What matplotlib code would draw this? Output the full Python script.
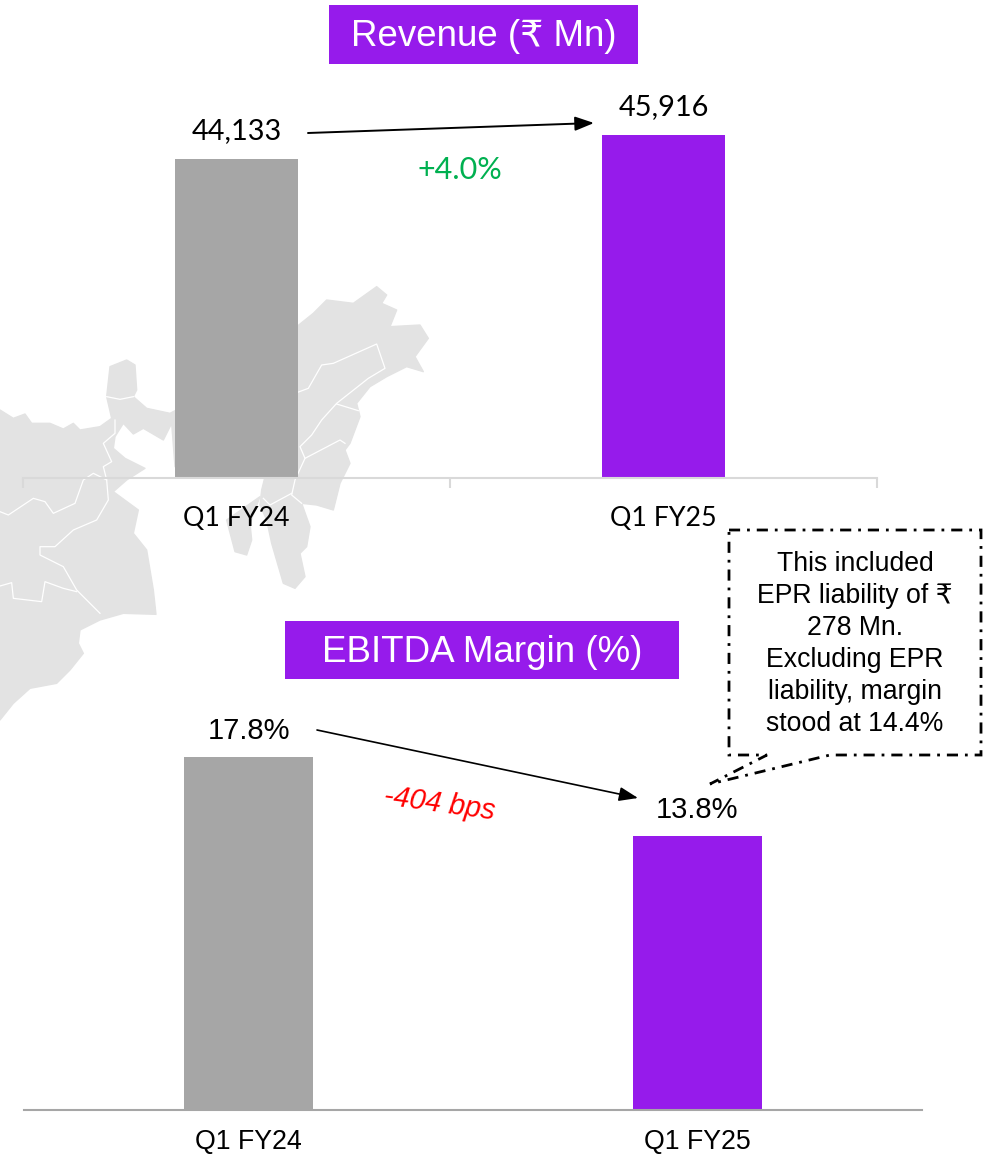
import matplotlib
matplotlib.use('Agg')
import matplotlib.pyplot as plt
from matplotlib.patches import Polygon, Rectangle

W, H = 983, 1154
PURPLE = '#961BEB'
GREY = '#A6A6A6'
ARIAL = ['Liberation Sans', 'DejaVu Sans']
CALIBRI = ['Lato', 'DejaVu Sans']

# данные
categories = ['Q1 FY24', 'Q1 FY25']
revenue = [44133, 45916]
revenue_labels = ['44,133', '45,916']
margin = [17.8, 13.8]
margin_labels = ['17.8%', '13.8%']
bar_colors = [GREY, PURPLE]

# контур карты на фоне (координаты из увеличенного фрагмента)
map_main = [(0, 390), (40, 415), (75, 402), (95, 430), (150, 430), (190, 447), (220, 430), (240, 450),
            (300, 440), (335, 415), (320, 350), (330, 260), (380, 240), (405, 255), (410, 330), (400, 350),
            (440, 385), (510, 400), (700, 300), (890, 140), (940, 100), (980, 60), (1060, 70), (1130, 20),
            (1160, 45), (1145, 70), (1190, 90), (1170, 140), (1260, 135), (1285, 175), (1245, 230),
            (1270, 275), (1220, 260), (1160, 290), (1110, 320), (1070, 370), (1080, 410), (1050, 490),
            (1035, 510), (1050, 550), (1020, 610), (1000, 690), (950, 675), (905, 670), (930, 740),
            (920, 800), (900, 820), (915, 890), (885, 925), (850, 910), (815, 790), (800, 720),
            (780, 675), (785, 630), (795, 590), (700, 590), (525, 560), (515, 430), (490, 480), (430, 445),
            (400, 462), (370, 430), (345, 470), (340, 505), (375, 535), (435, 565), (380, 600),
            (340, 635), (415, 690), (400, 760), (440, 810), (460, 930), (468, 1003), (370, 1000),
            (300, 1020), (240, 1050), (235, 1090), (250, 1120), (210, 1170), (170, 1210), (90, 1225),
            (40, 1270), (0, 1320)]
map_island = [(780, 650), (680, 720), (705, 815), (740, 825), (755, 780), (750, 730)]
map_borders = [
    [(320, 350), (360, 358), (400, 350)],
    [(345, 420), (345, 460), (310, 490), (335, 545), (310, 560), (320, 600), (325, 660), (290, 720), (220, 750), (165, 800), (120, 800), (120, 825), (190, 860), (230, 930), (300, 1000)],
    [(0, 695), (25, 705), (100, 655), (135, 665), (160, 700), (225, 670), (250, 600), (280, 580), (320, 600)],
    [(0, 918), (35, 908), (40, 955), (125, 965), (135, 905), (190, 925), (230, 935)],
    [(890, 338), (925, 325), (965, 255), (1000, 250), (1130, 192), (1155, 265), (1105, 295), (1010, 370), (965, 420), (935, 465), (900, 500), (915, 535), (1020, 480), (1035, 490)],
    [(1010, 372), (1075, 392)],
    [(915, 535), (885, 600), (875, 645), (905, 670)],
    [(790, 655), (810, 675), (875, 640)],
]


def zoom_to_px(pts):
    return [(x / 3, 280 + y / 3) for x, y in pts]


fig = plt.figure(figsize=(W / 100, H / 100), dpi=100, facecolor='white')

# оверлей в пикселях: карта, заголовки, стрелки, выноска
ov = fig.add_axes([0, 0, 1, 1], zorder=0)
ov.set_xlim(0, W)
ov.set_ylim(H, 0)
ov.axis('off')

ov.add_patch(Polygon(zoom_to_px(map_main), closed=True, fc='#E3E3E3', ec='#E3E3E3', lw=1, joinstyle='round'))
ov.add_patch(Polygon(zoom_to_px(map_island), closed=True, fc='#E3E3E3', ec='#E3E3E3', lw=1, joinstyle='round'))
for b in map_borders:
    p = zoom_to_px(b)
    ov.plot([q[0] for q in p], [q[1] for q in p], color='white', lw=0.9)


def axes_px(x0, x1, y0, y1):
    return fig.add_axes([x0 / W, 1 - y1 / H, (x1 - x0) / W, (y1 - y0) / H], zorder=1, facecolor='none')


# Выручка
ax1 = axes_px(23, 877, 90, 478)
ax1.bar([0, 1], revenue, width=0.286, color=bar_colors)
ax1.set_xlim(-0.5, 1.5)
ax1.set_ylim(20433, 20433 + 388 * 74.3)
for i, v in enumerate(revenue):
    ax1.annotate(revenue_labels[i], (i, v), xytext=(0, 11), textcoords='offset points', ha='center',
                 va='bottom', fontsize=20.8, family=CALIBRI, color='black')
ax1.set_xticks([-0.5, 0.5, 1.5])
ax1.set_xticklabels([])
ax1.set_xticks([0, 1], categories, minor=True, fontsize=19.3, family=CALIBRI)
ax1.tick_params(axis='x', which='major', length=7, width=1.5, color='#D9D9D9')
ax1.tick_params(axis='x', which='minor', length=0, pad=20)
ax1.set_yticks([])
for s in ['top', 'left', 'right']:
    ax1.spines[s].set_visible(False)
ax1.spines['bottom'].set_color('#D9D9D9')
ax1.spines['bottom'].set_linewidth(1.5)

# EBITDA
ax2 = axes_px(24, 922, 700, 1110)
ax2.bar([0, 1], margin, width=0.287, color=bar_colors)
ax2.set_xlim(-0.5, 1.5)
ax2.set_ylim(0, 410 / 19.84)
for i, v in enumerate(margin):
    ax2.annotate(margin_labels[i], (i, v), xytext=(0, 8.5), textcoords='offset points', ha='center',
                 va='bottom', fontsize=21, family=ARIAL, color='black')
ax2.set_xticks([0, 1], categories, fontsize=19.3, family=ARIAL)
ax2.tick_params(axis='x', length=0, pad=14)
ax2.set_yticks([])
for s in ['top', 'left', 'right']:
    ax2.spines[s].set_visible(False)
ax2.spines['bottom'].set_color('#A6A6A6')
ax2.spines['bottom'].set_linewidth(1.5)

# заголовки
ov.add_patch(Rectangle((329, 5), 309, 59, fc=PURPLE, ec='none'))
ov.text(484, 36, 'Revenue (₹ Mn)', color='white', fontsize=26.4, ha='center', va='center', family=ARIAL)
ov.add_patch(Rectangle((285, 621), 394, 58, fc=PURPLE, ec='none'))
ov.text(482, 652, 'EBITDA Margin (%)', color='white', fontsize=26.5, ha='center', va='center', family=ARIAL)

# стрелки и подписи изменения
head = '-|>,head_length=1.15,head_width=0.43'
ov.annotate('', xy=(594, 123), xytext=(308, 133),
            arrowprops=dict(arrowstyle=head, color='black', lw=1.4, shrinkA=0, shrinkB=0))
ov.annotate('', xy=(638, 798), xytext=(317, 730),
            arrowprops=dict(arrowstyle=head, color='black', lw=1.2, shrinkA=0, shrinkB=0))
ov.text(460, 170, '+4.0%', color='#00B050', fontsize=22, ha='center', va='center', family=CALIBRI)
ov.text(439, 804, '-404 bps', color='#FF0000', fontsize=20.8, ha='center', va='center', family=ARIAL,
        style='italic', rotation=-8)

# выноска
ov.add_patch(Polygon([(729, 530), (981, 530), (981, 755), (830, 755), (710, 784), (767, 755), (729, 755)],
                     closed=True, fc='white', ec='black', lw=2, ls=(0, (4, 2.5, 1, 2.5)), zorder=3))
callout = ['This included', 'EPR liability of ₹', '278 Mn.', 'Excluding EPR', 'liability, margin', 'stood at 14.4%']
for i, line in enumerate(callout):
    ov.text(855, 564 + i * 32, line, fontsize=19.2, ha='center', va='center', family=ARIAL, color='black', zorder=4)

fig.savefig('out.png', dpi=100)
